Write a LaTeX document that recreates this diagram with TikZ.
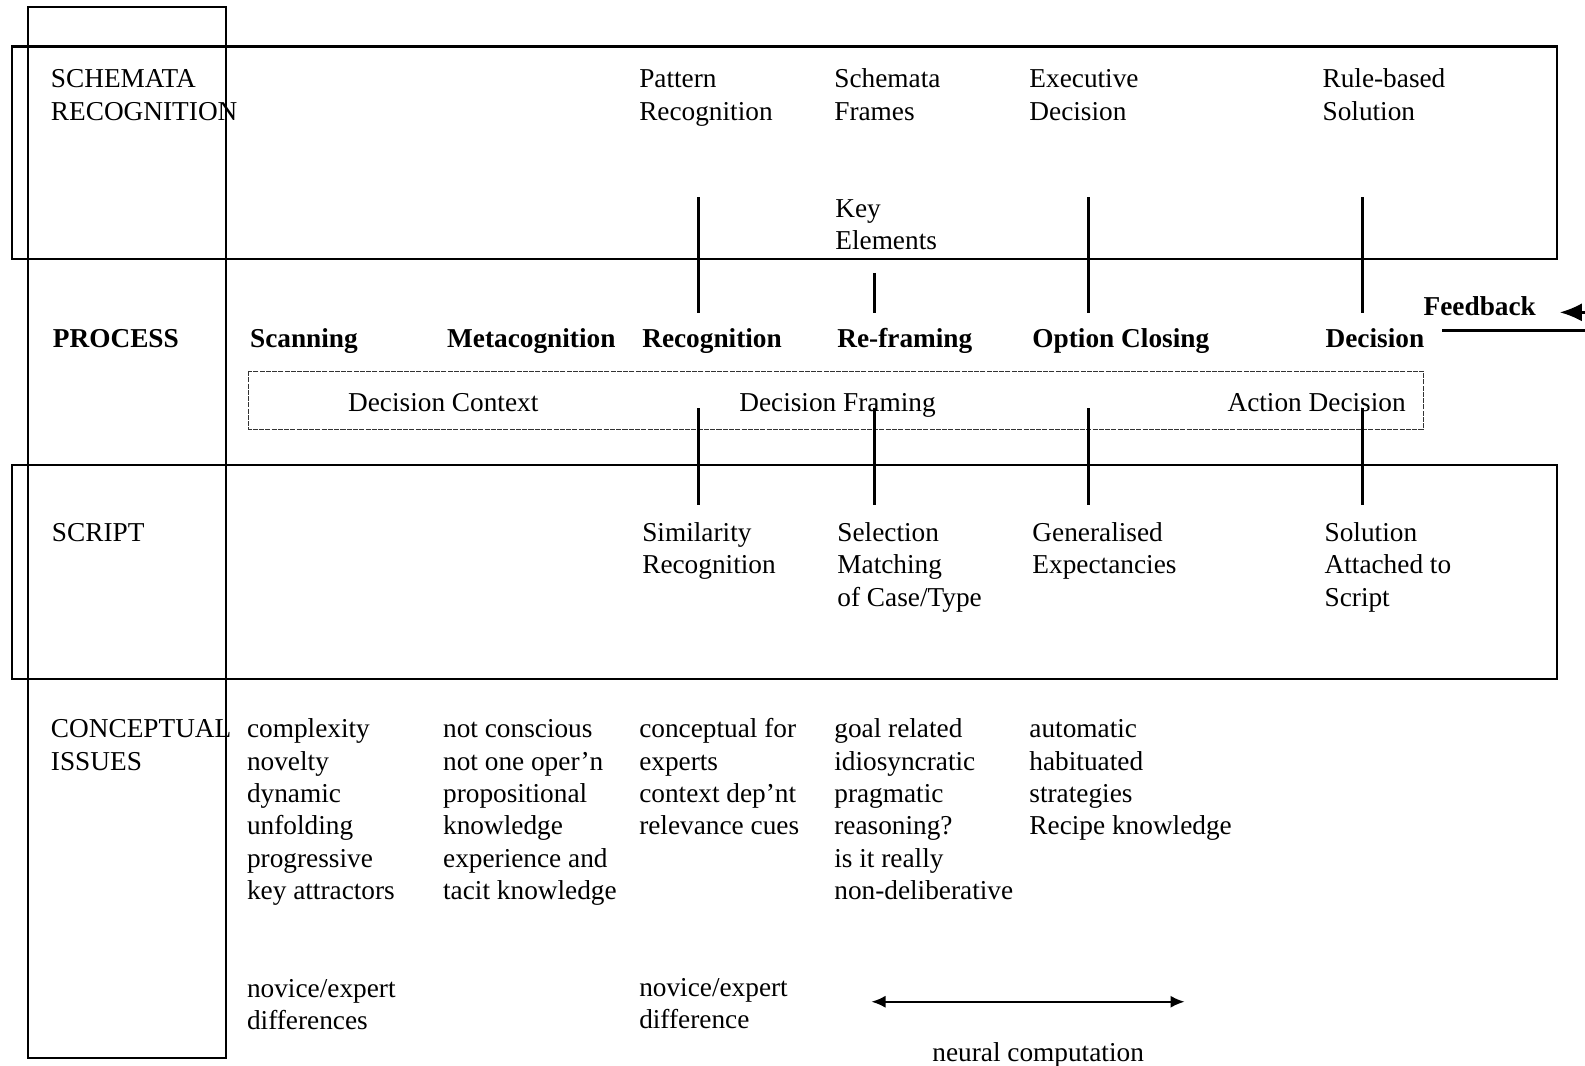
\documentclass[tikz,border=0pt]{standalone}
\usepackage{fontspec}
\setmainfont{Liberation Serif}
\usetikzlibrary{arrows.meta}
\begin{document}
\begin{tikzpicture}[x=0.5pt,y=-0.5pt,
  txt/.style={anchor=north west,inner sep=0pt,align=left,font=\fontsize{13.5}{16}\selectfont},
  btxt/.style={txt,font=\fontsize{13.5}{16}\selectfont\bfseries},
  frame/.style={draw,line width=1pt},
  ctxbox/.style={draw=black!80,line width=0.45pt,dash pattern=on 2.5pt off 0.6pt},
  link/.style={line width=1.4pt},
  tip/.style={-{Latex[length=7pt,width=6pt]}}]
\path[use as bounding box] (0,0) rectangle (1568,1054);
\clip (0,0) rectangle (1568,1054);

% frames
\draw[frame] (28,7) rectangle (224,1047);
\draw[frame] (12,46) rectangle (1540,256);
\draw[frame] (12,460) rectangle (1540,672);
\draw[ctxbox] (246,367) rectangle (1408,425);

% schemata row
\node[txt] (schrow) at (50,64) {\strut SCHEMATA\\RECOGNITION};
\node[txt] (patt) at (632,64) {\strut Pattern\\Recognition};
\node[txt] (frames) at (825,64) {\strut Schemata\\Frames};
\node[txt] (exec) at (1018,64) {\strut Executive\\Decision};
\node[txt] (rule) at (1308,64) {\strut Rule-based\\Solution};
\node[txt] (key) at (826,192) {\strut Key\\Elements};

% process row
\node[btxt] (procrow) at (52,321) {\strut PROCESS};
\node[btxt] (scan) at (247,321) {\strut Scanning};
\node[btxt] (meta) at (442,321) {\strut Metacognition};
\node[btxt] (recog) at (635,321) {\strut Recognition};
\node[btxt] (refr) at (828,321) {\strut Re-framing};
\node[btxt] (optc) at (1021,321) {\strut Option Closing};
\node[btxt] (dec) at (1311,321) {\strut Decision};
\node[btxt] (fb) at (1408,289) {\strut Feedback};

% decision phases
\node[txt] (dctx) at (344,384) {\strut Decision Context};
\node[txt] (dfr) at (731,384) {\strut Decision Framing};
\node[txt] (adec) at (1214,384) {\strut Action Decision};

% script row
\node[txt] (scrrow) at (51,513) {\strut SCRIPT};
\node[txt] (sim) at (635,513) {\strut Similarity\\Recognition};
\node[txt] (sel) at (828,513) {\strut Selection\\Matching\\of Case/Type};
\node[txt] (gen) at (1021,513) {\strut Generalised\\Expectancies};
\node[txt] (sol) at (1310,513) {\strut Solution\\Attached to\\Script};

% conceptual issues
\node[txt] (conrow) at (50,707) {\strut CONCEPTUAL\\ISSUES};
\node[txt] (c1) at (244,707) {\strut complexity\\novelty\\dynamic\\unfolding\\progressive\\key attractors};
\node[txt] (c2) at (438,707) {\strut not conscious\\not one oper’n\\propositional\\knowledge\\experience and\\tacit knowledge};
\node[txt] (c3) at (632,707) {\strut conceptual for\\experts\\context dep’nt\\relevance cues};
\node[txt] (c4) at (825,707) {\strut goal related\\idiosyncratic\\pragmatic\\reasoning?\\is it really\\non-deliberative};
\node[txt] (c5) at (1018,707) {\strut automatic\\habituated\\strategies\\Recipe knowledge};
\node[txt] (nov1) at (244,964) {\strut novice/expert\\differences};
\node[txt] (nov2) at (632,963) {\strut novice/expert\\difference};
\node[txt,anchor=north] (neural) at (1027,1027) {\strut neural computation};

% vertical links between the rows
\draw[link] (691,195) -- (691,310);
\draw[link] (865,270) -- (865,310);
\draw[link] (1077,195) -- (1077,310);
\draw[link] (1348,195) -- (1348,310);
\draw[link] (691,404) -- (691,500);
\draw[link] (865,404) -- (865,500);
\draw[link] (1077,404) -- (1077,500);
\draw[link] (1348,404) -- (1348,500);

% feedback
\coordinate (fbin) at (1600,309);
\coordinate (fbout) at (1543,309);
\draw[line width=1.2pt,-{Latex[length=11pt,width=9pt]}] (fbin) -- (fbout);
\coordinate (fbl) at (1427,327);
\coordinate (fbr) at (1600,327);
\draw[line width=1.2pt] (fbl) -- (fbr);

% neural computation span
\coordinate (ncl) at (862,991);
\coordinate (ncr) at (1172,991);
\draw[line width=1.1pt,{Latex[length=7pt,width=6pt]}-{Latex[length=7pt,width=6pt]}] (ncl) -- (ncr);
\end{tikzpicture}
\end{document}
